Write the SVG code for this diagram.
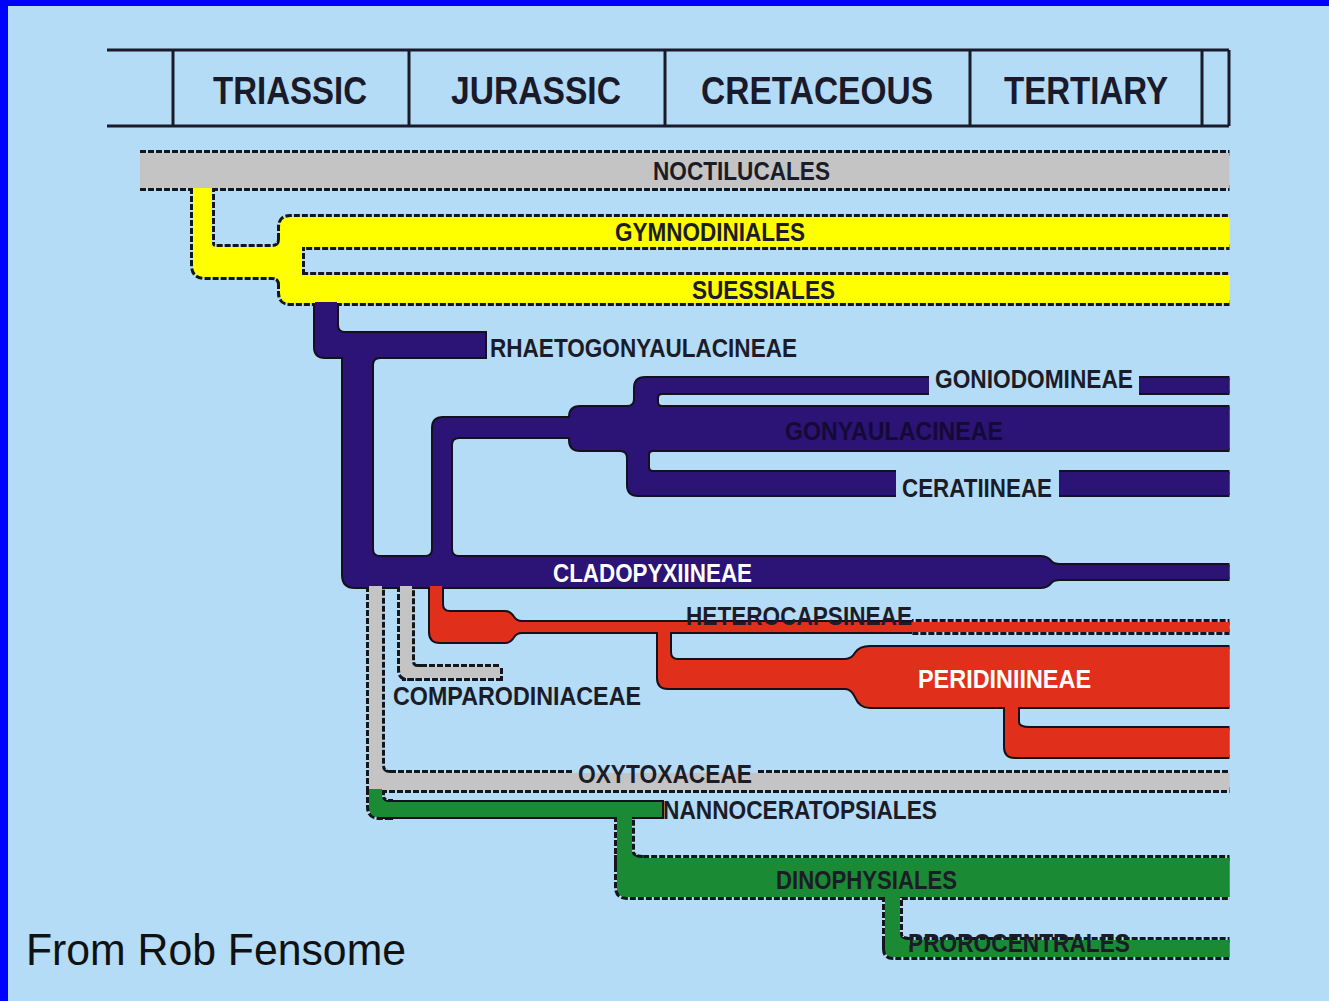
<svg xmlns="http://www.w3.org/2000/svg" xmlns:xlink="http://www.w3.org/1999/xlink" width="1329" height="1001" viewBox="0 0 1329 1001">
<style>
.ol-d{fill:none;stroke:#15151c;stroke-width:6;stroke-dasharray:6 2}
.ol-s{fill:none;stroke:#14101c;stroke-width:4}
.gray{fill:#c4c4c4}
.yel{fill:#ffff00}
.pur{fill:#2b1476}
.red{fill:#e0301c}
.grn{fill:#1a8a35}
.bg{fill:#b4dcf6}
.hdr{fill:none;stroke:#1a1a2a;stroke-width:3}
.lbl{font-family:"Liberation Sans",Arial,sans-serif;font-weight:bold;font-size:26px;fill:#1c1c28}
.wht{fill:#ffffff}
.dim{fill:#150935}
.per{font-family:"Liberation Sans",Arial,sans-serif;font-weight:bold;font-size:39px;fill:#1a1a2a}
.src{font-family:"Liberation Sans",Arial,sans-serif;font-size:44px;fill:#111111}
</style>
<defs>
<clipPath id="cl-all"><rect x="0" y="0" width="1229.5" height="1001"/></clipPath>
<clipPath id="cl-l"><rect x="0" y="0" width="912" height="1001"/></clipPath>
<clipPath id="cl-r"><rect x="912" y="0" width="417" height="1001"/></clipPath>
</defs>
<rect class="bg" x="0" y="0" width="1329" height="1001"/>
<rect x="0" y="0" width="1329" height="6" fill="#0000ff"/>
<rect x="0" y="0" width="8" height="1001" fill="#0000ff"/>

<g id="timescale">
<path class="hdr" d="M107,50 H1229 M107,126 H1229 M173,50 V126 M409,50 V126 M665,50 V126 M970,50 V126 M1202,50 V126 M1229,50 V126"/>
<text class="per" x="213" y="104" textLength="154" lengthAdjust="spacingAndGlyphs">TRIASSIC</text>
<text class="per" x="451" y="104" textLength="170" lengthAdjust="spacingAndGlyphs">JURASSIC</text>
<text class="per" x="701" y="104" textLength="232" lengthAdjust="spacingAndGlyphs">CRETACEOUS</text>
<text class="per" x="1004" y="104" textLength="164" lengthAdjust="spacingAndGlyphs">TERTIARY</text>
</g>

<g id="tree" clip-path="url(#cl-all)">
<g id="outlines">
<path class="ol-d" d="M140,153 H1240 M140,188 H1240"/>
<use href="#c-yel" xlink:href="#c-yel" class="ol-d"/>
<use href="#s-gymno" xlink:href="#s-gymno" class="ol-d"/>
<use href="#s-suess" xlink:href="#s-suess" class="ol-d"/>
<use href="#c-p1" xlink:href="#c-p1" class="ol-s"/>
<use href="#s-rhaeto" xlink:href="#s-rhaeto" class="ol-s"/>
<use href="#c-p2" xlink:href="#c-p2" class="ol-s"/>
<use href="#s-clado" xlink:href="#s-clado" class="ol-s"/>
<use href="#c-p3" xlink:href="#c-p3" class="ol-s"/>
<use href="#s-gony" xlink:href="#s-gony" class="ol-s"/>
<use href="#s-gonio" xlink:href="#s-gonio" class="ol-s"/>
<use href="#s-cera" xlink:href="#s-cera" class="ol-s"/>
<use href="#c-r1" xlink:href="#c-r1" class="ol-s"/>
<use href="#s-hetero" xlink:href="#s-hetero" class="ol-s" clip-path="url(#cl-l)"/>
<use href="#s-hetero" xlink:href="#s-hetero" class="ol-d" clip-path="url(#cl-r)"/>
<use href="#c-r2" xlink:href="#c-r2" class="ol-s"/>
<use href="#s-peri" xlink:href="#s-peri" class="ol-s"/>
<use href="#c-r3" xlink:href="#c-r3" class="ol-s"/>
<use href="#s-peri2" xlink:href="#s-peri2" class="ol-s"/>
<use href="#c-g-oxy" xlink:href="#c-g-oxy" class="ol-d"/>
<use href="#s-oxy" xlink:href="#s-oxy" class="ol-d"/>
<use href="#c-g-comp" xlink:href="#c-g-comp" class="ol-d"/>
<use href="#s-comp" xlink:href="#s-comp" class="ol-d"/>
<use href="#c-n1" xlink:href="#c-n1" class="ol-d"/>
<use href="#s-nanno" xlink:href="#s-nanno" class="ol-s"/>
<use href="#c-n2" xlink:href="#c-n2" class="ol-d"/>
<use href="#s-dino" xlink:href="#s-dino" class="ol-d"/>
<use href="#c-n3" xlink:href="#c-n3" class="ol-d"/>
<use href="#s-proro" xlink:href="#s-proro" class="ol-d"/>
</g>

<g id="noctilucales">
<rect class="gray" x="140" y="153" width="1100" height="35"/>
<text class="lbl" x="653" y="180" textLength="177" lengthAdjust="spacingAndGlyphs">NOCTILUCALES</text>
</g>
<g id="gymnodiniales">
<path id="s-gymno" class="yel" d="M280,247 L280,227 Q280,217 290,217 L1240,217 L1240,247 Z"/>
<text class="lbl" x="615" y="241" textLength="190" lengthAdjust="spacingAndGlyphs">GYMNODINIALES</text>
</g>
<g id="suessiales">
<path id="s-suess" class="yel" d="M280,275 L280,293 Q280,303 290,303 L1240,303 L1240,275 Z"/>
<text class="lbl" x="692" y="299" textLength="143" lengthAdjust="spacingAndGlyphs">SUESSIALES</text>
</g>
<g id="rhaetogonyaulacineae">
<path id="s-rhaeto" class="pur" d="M315,333 L315,347 Q315,357 325,357 L485,357 L485,333 Z"/>
<text class="lbl" x="490" y="357" textLength="307" lengthAdjust="spacingAndGlyphs">RHAETOGONYAULACINEAE</text>
</g>
<g id="gonyaulacineae">
<path id="s-gony" class="pur" d="M570,417 Q570,407 580,407 L1240,407 L1240,450 L580,450 Q570,450 570,440 Z"/>
<text class="lbl dim" x="785" y="440" textLength="218" lengthAdjust="spacingAndGlyphs">GONYAULACINEAE</text>
</g>
<g id="goniodomineae">
<path id="s-gonio" class="pur" d="M627,412 L627,407 Q635,407 635,399 L635,388 Q635,378 645,378 L1240,378 L1240,393 L662,393 Q657,393 657,398 L657,402 Q657,407 662,407 L662,412 Z"/>
<rect class="bg" x="929" y="364" width="210" height="34"/>
<text class="lbl" x="935" y="388" textLength="198" lengthAdjust="spacingAndGlyphs">GONIODOMINEAE</text>
</g>
<g id="ceratiineae">
<path id="s-cera" class="pur" d="M620,445 L620,450 Q628,450 628,458 L628,485 Q628,495 638,495 L1240,495 L1240,472 L653,472 Q648,472 648,467 L648,455 Q648,450 653,450 L653,445 Z"/>
<rect class="bg" x="896" y="469" width="163" height="30"/>
<text class="lbl" x="902" y="497" textLength="150" lengthAdjust="spacingAndGlyphs">CERATIINEAE</text>
</g>
<g id="cladopyxiineae">
<path id="s-clado" class="pur" d="M365,557 L1040,557 Q1047,557 1050,561 Q1053,565 1060,565 L1240,565 L1240,579 L1060,579 Q1053,579 1050,583 Q1047,587 1040,587 L365,587 Z"/>
<text class="lbl wht" x="553" y="582" textLength="199" lengthAdjust="spacingAndGlyphs">CLADOPYXIINEAE</text>
</g>
<g id="heterocapsineae">
<path id="s-hetero" class="red" d="M430,612 L430,632 Q430,642 440,642 L505,642 Q510,642 513,637 Q516,632 522,632 L1240,632 L1240,622 L522,622 Q516,622 513,617 Q510,612 505,612 Z"/>
<text class="lbl" x="686" y="625" textLength="226" lengthAdjust="spacingAndGlyphs">HETEROCAPSINEAE</text>
</g>
<g id="peridiniineae">
<path id="s-peri" class="red" d="M658,660 L658,678 Q658,688 668,688 L845,688 Q852,688 856,697 Q860,707 870,707 L1240,707 L1240,647 L870,647 Q860,647 856,653 Q852,660 845,660 Z"/>
<text class="lbl wht" x="918" y="688" textLength="173" lengthAdjust="spacingAndGlyphs">PERIDINIINEAE</text>
</g>
<g id="peridiniineae-branch">
<path id="s-peri2" class="red" d="M1005,728 L1005,747 Q1005,757 1015,757 L1240,757 L1240,728 Z"/>
</g>
<g id="comparodiniaceae">
<path id="s-comp" class="gray" d="M405,667 L500,667 L500,678 L405,678 Z"/>
<text class="lbl" x="393" y="705" textLength="248" lengthAdjust="spacingAndGlyphs">COMPARODINIACEAE</text>
</g>
<g id="oxytoxaceae">
<path id="s-oxy" class="gray" d="M382,773 L1240,773 L1240,790 L382,790 Z"/>
<rect class="bg" x="574" y="764" width="184" height="9"/>
<text class="lbl" x="578" y="783" textLength="174" lengthAdjust="spacingAndGlyphs">OXYTOXACEAE</text>
</g>
<g id="nannoceratopsiales">
<path id="s-nanno" class="grn" d="M380,802 L662,802 L662,817 L380,817 Z"/>
<text class="lbl" x="663" y="819" textLength="274" lengthAdjust="spacingAndGlyphs">NANNOCERATOPSIALES</text>
</g>
<g id="dinophysiales">
<path id="s-dino" class="grn" d="M617,858 L617,887 Q617,897 627,897 L1240,897 L1240,858 Z"/>
<text class="lbl" x="776" y="889" textLength="181" lengthAdjust="spacingAndGlyphs">DINOPHYSIALES</text>
</g>
<g id="prorocentrales">
<path id="s-proro" class="grn" d="M885,940 L885,949 Q885,957 893,957 L1240,957 L1240,940 Z"/>
<text class="lbl" x="908" y="952" textLength="222" lengthAdjust="spacingAndGlyphs">PROROCENTRALES</text>
</g>

<g id="connectors">
<path id="c-yel" class="yel" d="M193,188 L193,265 Q193,277 205,277 L272,277 Q280,277 280,285 L302,285 L302,239 L280,239 Q280,247 272,247 L216,247 Q212,247 212,243 L212,188 Z"/>
<path id="c-p1" class="pur" d="M315,302 L315,345 L345,345 L345,333 Q337,333 337,325 L337,302 Z"/>
<path id="c-p2" class="pur" d="M343,350 L343,575 Q343,587 355,587 L380,587 L380,557 Q372,557 372,549 L372,365 Q372,357 380,357 L380,350 Z"/>
<path id="c-p3" class="pur" d="M425,562 L425,557 Q433,557 433,549 L433,428 Q433,418 443,418 L575,418 L575,437 L459,437 Q451,437 451,445 L451,549 Q451,557 459,557 L459,562 Z"/>
<path id="c-r1" class="red" d="M430,586 L430,620 L450,620 L450,612 Q442,612 442,604 L442,586 Z"/>
<path id="c-r2" class="red" d="M658,630 L658,670 L678,670 L678,660 Q670,660 670,652 L670,630 Z"/>
<path id="c-r3" class="red" d="M1005,706 L1005,740 L1030,740 L1030,728 Q1018,728 1018,722 L1018,706 Z"/>
<path id="c-g-comp" class="gray" d="M400,586 L400,670 Q400,678 408,678 L418,678 L418,667 Q412,667 412,661 L412,586 Z"/>
<path id="c-g-oxy" class="gray" d="M369,586 L369,790 L390,790 L390,773 Q382,773 382,765 L382,586 Z"/>
<path id="c-n1" class="grn" d="M369,789 L369,807 Q369,817 379,817 L390,817 L390,802 Q382,802 382,796 L382,789 Z"/>
<path id="c-n2" class="grn" d="M617,816 L617,866 L645,866 L645,858 Q632,858 632,852 L632,816 Z"/>
<path id="c-n3" class="grn" d="M885,896 L885,945 L910,945 L910,940 Q900,940 900,934 L900,896 Z"/>
</g>
</g>

<text class="src" x="26" y="965" textLength="380" lengthAdjust="spacingAndGlyphs">From Rob Fensome</text>
</svg>
